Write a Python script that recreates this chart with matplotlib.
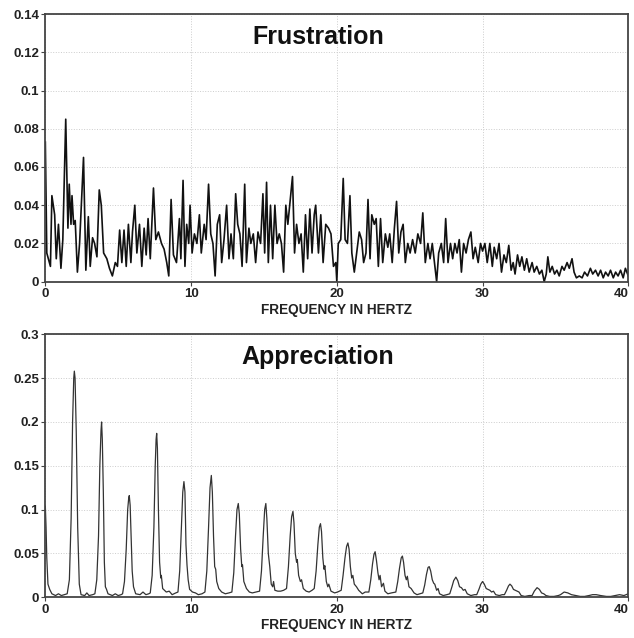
import matplotlib
matplotlib.use('Agg')
import matplotlib.pyplot as plt

plt.rcParams['font.family'] = ['Liberation Sans', 'DejaVu Sans']
plt.rcParams['font.weight'] = 'bold'

# Frustration spectrum
frus_freq = [0.0, 0.1, 0.35, 0.45, 0.64, 0.75, 0.9, 1.07, 1.2, 1.4, 1.55, 1.64, 1.76, 1.83, 1.94,
             2.05, 2.2, 2.35, 2.62, 2.78, 2.95, 3.08, 3.24, 3.38, 3.54, 3.7, 3.84, 4.0, 4.22, 4.4,
             4.6, 4.8, 4.95, 5.1, 5.25, 5.4, 5.55, 5.7, 5.87, 5.98, 6.14, 6.28, 6.46, 6.62, 6.78,
             6.92, 7.05, 7.2, 7.42, 7.58, 7.76, 7.97, 8.15, 8.33, 8.47, 8.63, 8.79, 9.0, 9.2, 9.3,
             9.45, 9.58, 9.7, 9.84, 9.93, 10.07, 10.23, 10.4, 10.57, 10.7, 10.9, 11.03, 11.2, 11.35,
             11.5, 11.65, 11.8, 11.96, 12.1, 12.26, 12.44, 12.6, 12.74, 12.9, 13.06, 13.2, 13.35,
             13.5, 13.68, 13.8, 13.97, 14.1, 14.27, 14.43, 14.59, 14.77, 14.93, 15.05, 15.18, 15.3,
             15.45, 15.6, 15.75, 15.9, 16.05, 16.2, 16.35, 16.5, 16.64, 16.83, 16.96, 17.1, 17.24,
             17.4, 17.55, 17.7, 17.85, 18.0, 18.15, 18.3, 18.45, 18.55, 18.74, 18.9, 19.06, 19.24,
             19.43, 19.6, 19.77, 19.93, 20.0, 20.1, 20.27, 20.44, 20.57, 20.73, 20.9, 21.03, 21.2,
             21.36, 21.54, 21.7, 21.84, 22.0, 22.14, 22.28, 22.4, 22.57, 22.7, 22.85, 23.0, 23.15,
             23.33, 23.5, 23.63, 23.8, 23.95, 24.1, 24.25, 24.4, 24.55, 24.7, 24.87, 25.03, 25.2,
             25.38, 25.56, 25.75, 25.9, 26.07, 26.25, 26.4, 26.55, 26.7, 26.85, 26.99, 27.17, 27.33,
             27.47, 27.63, 27.8, 27.95, 28.1, 28.25, 28.4, 28.55, 28.7, 28.87, 29.03, 29.2, 29.35,
             29.5, 29.7, 29.86, 30.0, 30.16, 30.32, 30.5, 30.67, 30.8, 30.97, 31.13, 31.3, 31.47,
             31.63, 31.8, 31.96, 32.1, 32.23, 32.4, 32.55, 32.7, 32.87, 33.03, 33.2, 33.4, 33.54,
             33.72, 33.9, 34.07, 34.23, 34.37, 34.48, 34.62, 34.78, 34.94, 35.1, 35.26, 35.45, 35.6,
             35.8, 35.95, 36.14, 36.28, 36.44, 36.64, 36.83, 37.0, 37.2, 37.4, 37.56, 37.75, 37.93,
             38.1, 38.28, 38.44, 38.62, 38.78, 38.97, 39.13, 39.3, 39.47, 39.65, 39.8, 40.0]
frus_power = [0.073, 0.015, 0.008, 0.045, 0.035, 0.012, 0.030, 0.007, 0.022, 0.085, 0.028, 0.051,
              0.030, 0.045, 0.030, 0.032, 0.005, 0.020, 0.065, 0.006, 0.034, 0.008, 0.023, 0.020,
              0.013, 0.048, 0.040, 0.015, 0.012, 0.007, 0.003, 0.010, 0.008, 0.027, 0.010, 0.027,
              0.008, 0.030, 0.010, 0.026, 0.040, 0.015, 0.030, 0.008, 0.028, 0.014, 0.033, 0.012,
              0.049, 0.022, 0.026, 0.020, 0.017, 0.010, 0.003, 0.043, 0.014, 0.010, 0.033, 0.012,
              0.053, 0.008, 0.030, 0.020, 0.040, 0.015, 0.025, 0.020, 0.035, 0.015, 0.030, 0.022,
              0.051, 0.025, 0.020, 0.003, 0.030, 0.035, 0.010, 0.022, 0.040, 0.012, 0.025, 0.012,
              0.046, 0.030, 0.025, 0.008, 0.051, 0.010, 0.028, 0.020, 0.025, 0.010, 0.026, 0.020,
              0.046, 0.015, 0.052, 0.010, 0.040, 0.012, 0.040, 0.020, 0.025, 0.020, 0.005, 0.040,
              0.030, 0.045, 0.055, 0.015, 0.030, 0.020, 0.025, 0.005, 0.035, 0.012, 0.038, 0.015,
              0.035, 0.040, 0.015, 0.035, 0.010, 0.030, 0.028, 0.025, 0.008, 0.010, 0.000, 0.020,
              0.022, 0.054, 0.022, 0.020, 0.045, 0.015, 0.005, 0.015, 0.026, 0.022, 0.010, 0.015,
              0.043, 0.012, 0.035, 0.030, 0.033, 0.008, 0.033, 0.010, 0.025, 0.018, 0.025, 0.010,
              0.028, 0.042, 0.015, 0.026, 0.030, 0.010, 0.020, 0.015, 0.022, 0.015, 0.025, 0.020,
              0.036, 0.010, 0.020, 0.012, 0.020, 0.010, 0.000, 0.015, 0.020, 0.010, 0.033, 0.010,
              0.020, 0.012, 0.020, 0.015, 0.022, 0.005, 0.020, 0.015, 0.022, 0.026, 0.012, 0.018,
              0.010, 0.020, 0.016, 0.020, 0.010, 0.020, 0.008, 0.018, 0.012, 0.020, 0.005, 0.014,
              0.010, 0.019, 0.006, 0.010, 0.004, 0.014, 0.008, 0.013, 0.006, 0.012, 0.005, 0.010,
              0.005, 0.008, 0.004, 0.006, 0.000, 0.004, 0.013, 0.005, 0.008, 0.004, 0.006, 0.003,
              0.008, 0.006, 0.010, 0.007, 0.012, 0.005, 0.002, 0.003, 0.002, 0.005, 0.003, 0.007,
              0.004, 0.006, 0.003, 0.006, 0.002, 0.005, 0.003, 0.006, 0.002, 0.005, 0.003, 0.006,
              0.002, 0.007, 0.003]

# Appreciation spectrum
appr_freq = [0.0, 0.05, 0.1, 0.18, 0.3, 0.45, 0.7, 0.9, 1.1, 1.3,
             1.5, 1.65, 1.77, 1.87, 1.95, 1.99, 2.04, 2.12, 2.22, 2.33, 2.45, 2.7, 2.85, 3.0, 3.25,
             3.4, 3.53, 3.65, 3.74, 3.82, 3.86, 3.91, 3.98, 4.05, 4.12, 4.2, 4.3, 4.6, 4.8, 5.0, 5.2,
             5.3, 5.43, 5.55, 5.65, 5.72, 5.76, 5.82, 5.9, 5.96, 6.05, 6.2, 6.5, 6.7, 6.9, 7.1,
             7.2, 7.33, 7.45, 7.54, 7.6, 7.64, 7.69, 7.76, 7.84, 7.92, 7.96, 8.05, 8.3, 8.5, 8.7, 8.95,
             9.1, 9.22, 9.34, 9.43, 9.51, 9.58, 9.65, 9.72, 9.8, 9.9, 10.1, 10.3, 10.5, 10.75,
             10.95, 11.08, 11.2, 11.3, 11.39, 11.46, 11.54, 11.62, 11.69, 11.76, 11.9, 12.1, 12.35, 12.6,
             12.8, 12.93, 13.05, 13.15, 13.24, 13.31, 13.4, 13.48, 13.53, 13.62, 13.8, 14.0, 14.2, 14.45,
             14.7, 14.83, 14.95, 15.05, 15.13, 15.2, 15.3, 15.4, 15.5, 15.6, 15.66, 15.75, 15.95, 16.15, 16.35,
             16.55, 16.68, 16.8, 16.9, 16.99, 17.06, 17.15, 17.24, 17.29, 17.38, 17.5, 17.58, 17.7, 17.9, 18.1, 18.3,
             18.45, 18.58, 18.7, 18.8, 18.88, 18.95, 19.04, 19.12, 19.18, 19.28, 19.38, 19.45, 19.6, 19.85, 20.05,
             20.3, 20.43, 20.56, 20.67, 20.76, 20.84, 20.93, 21.02, 21.1, 21.2, 21.35, 21.5, 21.75, 21.95,
             22.2, 22.33, 22.45, 22.55, 22.63, 22.72, 22.82, 22.9, 22.97, 23.07, 23.2, 23.3, 23.5, 23.75,
             24.05, 24.18, 24.3, 24.42, 24.5, 24.58, 24.68, 24.77, 24.84, 24.95, 25.1, 25.3, 25.5, 25.7,
             25.9, 26.03, 26.15, 26.26, 26.34, 26.44, 26.55, 26.65, 26.72, 26.85, 26.95, 27.05, 27.3, 27.55,
             27.75, 27.9, 28.02, 28.17, 28.3, 28.42, 28.55, 28.68, 28.8, 28.95, 29.2, 29.45,
             29.6, 29.75, 29.88, 30.0, 30.12, 30.25, 30.38, 30.5, 30.62, 30.75, 30.9, 31.15, 31.35,
             31.5, 31.65, 31.78, 31.88, 32.0, 32.12, 32.25, 32.38, 32.5, 32.65, 32.9, 33.2,
             33.4, 33.55, 33.74, 33.9, 34.05, 34.2, 34.35, 34.6, 34.9, 35.2,
             35.35, 35.6, 35.85, 36.1, 36.4, 36.7, 37.0,
             37.3, 37.55, 37.8, 38.1, 38.5, 38.8, 39.1, 39.4, 39.7, 40.0]
appr_power = [0.104, 0.08, 0.045, 0.015, 0.009, 0.004, 0.002, 0.004, 0.002, 0.003,
              0.004, 0.02, 0.09, 0.2, 0.25, 0.258, 0.25, 0.19, 0.08, 0.015, 0.003, 0.002, 0.005, 0.002, 0.003,
              0.004, 0.02, 0.07, 0.15, 0.19, 0.2, 0.18, 0.12, 0.04, 0.012, 0.009, 0.004, 0.002, 0.004, 0.002, 0.003,
              0.004, 0.018, 0.055, 0.1, 0.113, 0.116, 0.105, 0.06, 0.03, 0.012, 0.004, 0.003, 0.006, 0.003, 0.004,
              0.005, 0.025, 0.08, 0.15, 0.18, 0.187, 0.17, 0.1, 0.04, 0.022, 0.025, 0.01, 0.006, 0.007, 0.003, 0.005,
              0.006, 0.03, 0.08, 0.12, 0.132, 0.12, 0.06, 0.037, 0.02, 0.009, 0.006, 0.005, 0.003, 0.004,
              0.006, 0.03, 0.08, 0.125, 0.139, 0.12, 0.07, 0.035, 0.032, 0.018, 0.01, 0.006, 0.004, 0.005,
              0.006, 0.028, 0.07, 0.1, 0.107, 0.095, 0.055, 0.035, 0.037, 0.018, 0.01, 0.006, 0.005, 0.006,
              0.007, 0.03, 0.07, 0.1, 0.107, 0.09, 0.05, 0.035, 0.015, 0.012, 0.018, 0.008, 0.007, 0.007, 0.008,
              0.01, 0.035, 0.07, 0.092, 0.098, 0.085, 0.05, 0.04, 0.043, 0.025, 0.018, 0.02, 0.01, 0.007, 0.006, 0.008,
              0.01, 0.03, 0.06, 0.08, 0.084, 0.075, 0.045, 0.032, 0.036, 0.018, 0.012, 0.015, 0.007, 0.005, 0.006,
              0.008, 0.025, 0.045, 0.058, 0.062, 0.055, 0.035, 0.022, 0.025, 0.015, 0.012, 0.008, 0.004, 0.006,
              0.006, 0.02, 0.038, 0.049, 0.052, 0.042, 0.028, 0.02, 0.025, 0.012, 0.016, 0.007, 0.004, 0.005,
              0.006, 0.018, 0.033, 0.045, 0.047, 0.04, 0.025, 0.02, 0.024, 0.012, 0.01, 0.005, 0.003, 0.004,
              0.005, 0.014, 0.026, 0.034, 0.035, 0.03, 0.02, 0.016, 0.015, 0.008, 0.01, 0.004, 0.002, 0.003,
              0.004, 0.012, 0.019, 0.023, 0.019, 0.012, 0.011, 0.008, 0.009, 0.004, 0.002, 0.003,
              0.003, 0.009, 0.015, 0.018, 0.015, 0.01, 0.009, 0.008, 0.006, 0.007, 0.003, 0.002, 0.003,
              0.003, 0.008, 0.013, 0.015, 0.013, 0.009, 0.008, 0.007, 0.006, 0.002, 0.001, 0.002,
              0.002, 0.007, 0.011, 0.009, 0.005, 0.004, 0.002, 0.001, 0.001, 0.002,
              0.003, 0.006, 0.005, 0.003, 0.002, 0.001, 0.001,
              0.002, 0.003, 0.003, 0.002, 0.001, 0.001, 0.002, 0.003, 0.002, 0.004]

x_ticks = [0, 10, 20, 30, 40]
frus_yticks = [0, 0.02, 0.04, 0.06, 0.08, 0.1, 0.12, 0.14]
frus_ylabels = ['0', '0.02', '0.04', '0.06', '0.08', '0.1', '0.12', '0.14']
appr_yticks = [0, 0.05, 0.1, 0.15, 0.2, 0.25, 0.3]
appr_ylabels = ['0', '0.05', '0.1', '0.15', '0.2', '0.25', '0.3']

fig = plt.figure(figsize=(6.34, 6.38), dpi=100)
ax1 = fig.add_axes([0.0715, 0.5585, 0.9195, 0.4195])
ax2 = fig.add_axes([0.0715, 0.0638, 0.9195, 0.4122])


def style(ax, yticks, ylabels, ymax, title):
    ax.set_xlim(0, 40)
    ax.set_ylim(0, ymax)
    ax.set_xticks(x_ticks)
    labels = ax.set_xticklabels([str(t) for t in x_ticks], fontsize=9.5, fontweight='bold', color='#222222')
    # last label would run off the right edge
    labels[-1].set_horizontalalignment('right')
    ax.set_yticks(yticks)
    ax.set_yticklabels(ylabels, fontsize=9.5, fontweight='bold', color='#222222')
    ax.grid(True, color='#cccccc', linestyle=':', linewidth=0.7)
    ax.set_axisbelow(True)
    for s in ax.spines.values():
        s.set_color('#444444')
        s.set_linewidth(1.3)
    ax.tick_params(axis='both', direction='out', length=3, width=0.8, color='#444444', pad=1.5)
    ax.set_xlabel('FREQUENCY IN HERTZ', fontsize=9.8, fontweight='bold', color='#222222', labelpad=2)
    ax.text(0.468, 0.915, title, transform=ax.transAxes, ha='center', va='center',
            fontsize=18, fontweight='bold', color='#111111')


ax1.plot(frus_freq, frus_power, color='#111111', linewidth=1.2)
style(ax1, frus_yticks, frus_ylabels, 0.14, 'Frustration')

ax2.plot(appr_freq, appr_power, color='#333333', linewidth=0.9)
style(ax2, appr_yticks, appr_ylabels, 0.3, 'Appreciation')

fig.savefig('out.png', dpi=100, facecolor='white')
